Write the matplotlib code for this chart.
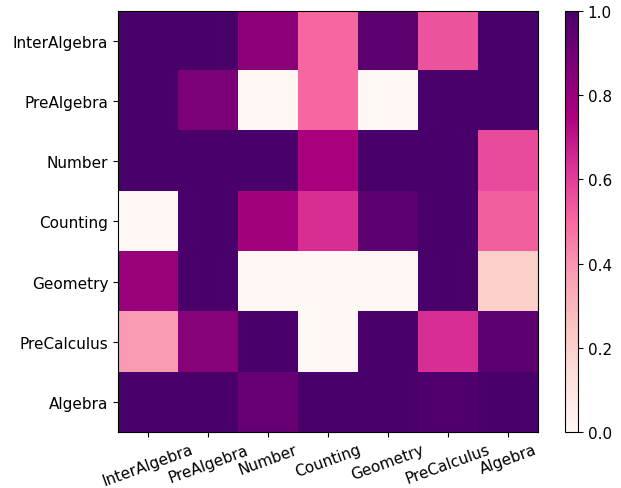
import numpy as np
import matplotlib
matplotlib.use("Agg")
from matplotlib import pyplot as plt

# kategori soal
labels = ['InterAlgebra', 'PreAlgebra', 'Number', 'Counting', 'Geometry', 'PreCalculus', 'Algebra']

# nilai tiap sel (baris = sumbu y, kolom = sumbu x)
row_interalgebra = [1.00, 1.00, 0.83, 0.50, 0.95, 0.55, 1.00]
row_prealgebra = [1.00, 0.87, 0.00, 0.50, 0.00, 1.00, 1.00]
row_number = [1.00, 1.00, 1.00, 0.76, 1.00, 1.00, 0.57]
row_counting = [0.00, 1.00, 0.78, 0.64, 0.95, 1.00, 0.52]
row_geometry = [0.80, 1.00, 0.00, 0.00, 0.00, 1.00, 0.20]
row_precalculus = [0.39, 0.84, 1.00, 0.00, 1.00, 0.64, 0.95]
row_algebra = [1.00, 1.00, 0.92, 1.00, 1.00, 0.98, 1.00]

data = np.array([row_interalgebra, row_prealgebra, row_number, row_counting,
                 row_geometry, row_precalculus, row_algebra])

plt.rcParams['font.size'] = 11
fig = plt.figure(figsize=(6.21, 4.89), dpi=100)
ax = fig.add_axes([0.19, 0.1145, 0.676, 0.861])
cax = fig.add_axes([0.9098, 0.1145, 0.021, 0.861])
im = ax.imshow(data, cmap='RdPu', vmin=0, vmax=1, aspect='auto')
ax.set_xticks(range(len(labels)))
ax.set_xticklabels(labels, rotation=20)
ax.set_yticks(range(len(labels)))
ax.set_yticklabels(labels)
fig.colorbar(im, cax=cax)
plt.savefig("out.png")
